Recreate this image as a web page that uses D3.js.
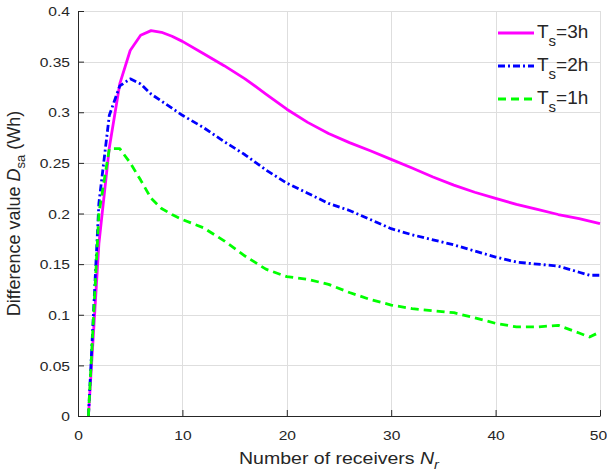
<!DOCTYPE html>
<html>
<head>
<meta charset="utf-8">
<script src="https://cdn.jsdelivr.net/npm/d3@7"></script>
<style>
  html, body { margin: 0; padding: 0; background: #fff; }
  svg { display: block; }
  text { font-family: "Liberation Sans", Arial, Helvetica, sans-serif; fill: #262626; }
</style>
</head>
<body>
<svg id="chart" width="607" height="476"></svg>
<script>
// Number of receivers N_r
const receivers = [1, 2, 3, 4, 5, 6, 7, 8, 9, 10, 12, 14, 16, 18, 20, 22, 24, 26, 28, 30,
                   32, 34, 36, 38, 40, 42, 44, 46, 48, 49, 50];

// Difference value D_sa (Wh) for each sensing period
const ts3h = [0, 0.170, 0.265, 0.328, 0.361, 0.376, 0.3806, 0.379, 0.375, 0.370,
              0.358, 0.346, 0.333, 0.318, 0.303, 0.290, 0.279, 0.270, 0.262, 0.2535,
              0.245, 0.236, 0.228, 0.221, 0.215, 0.209, 0.204, 0.199, 0.195, 0.1925, 0.190];
const ts2h = [0, 0.210, 0.297, 0.326, 0.333, 0.328, 0.318, 0.311, 0.304, 0.297,
              0.285, 0.271, 0.258, 0.243, 0.230, 0.220, 0.210, 0.203, 0.194, 0.185,
              0.179, 0.174, 0.169, 0.163, 0.157, 0.152, 0.150, 0.148, 0.142, 0.139, 0.139];
const ts1h = [0, 0.200, 0.264, 0.264, 0.250, 0.233, 0.215, 0.205, 0.199, 0.194,
              0.186, 0.173, 0.158, 0.145, 0.1376, 0.135, 0.130, 0.122, 0.115, 0.1096,
              0.106, 0.104, 0.102, 0.097, 0.0915, 0.088, 0.088, 0.0895, 0.082, 0.078, 0.083];

const seriesNames = ["3h", "2h", "1h"];
const xTicks = [0, 10, 20, 30, 40, 50];
const yTicks = [0, 0.05, 0.1, 0.15, 0.2, 0.25, 0.3, 0.35, 0.4];

const series = [
  { name: seriesNames[0], values: ts3h, color: "#ff00ff", dash: null },
  { name: seriesNames[1], values: ts2h, color: "#0000ff", dash: "7,3,2,3" },
  { name: seriesNames[2], values: ts1h, color: "#00ff00", dash: "8,5" }
];

const margin = { left: 78, right: 7, top: 11, bottom: 60 };
const W = 607, H = 476;
const svg = d3.select("#chart");

const x = d3.scaleLinear().domain([0, 50]).range([margin.left, W - margin.right]);
const y = d3.scaleLinear().domain([0, 0.4]).range([H - margin.bottom, margin.top]);

// grid
const grid = svg.append("g").attr("stroke", "#dedede").attr("stroke-width", 1);
grid.selectAll("line.gx").data(xTicks).join("line")
  .attr("x1", d => Math.round(x(d)) + 0.5).attr("x2", d => Math.round(x(d)) + 0.5)
  .attr("y1", y(0)).attr("y2", y(0.4));
grid.selectAll("line.gy").data(yTicks).join("line")
  .attr("y1", d => Math.round(y(d)) + 0.5).attr("y2", d => Math.round(y(d)) + 0.5)
  .attr("x1", x(0)).attr("x2", x(50));

// curves
const line = d3.line().x((d, i) => x(receivers[i])).y(d => y(d));
svg.append("g").selectAll("path").data(series).join("path")
  .attr("d", d => line(d.values))
  .attr("fill", "none")
  .attr("stroke", d => d.color)
  .attr("stroke-width", 2.8)
  .attr("stroke-linejoin", "round")
  .attr("stroke-dasharray", d => d.dash);

// axes
const stretch = 1.2;
const xAxis = svg.append("g").attr("transform", `translate(0,${y(0)})`)
  .call(d3.axisBottom(x).tickValues(xTicks).tickFormat(d3.format("d"))
        .tickSizeInner(-6).tickSizeOuter(0));
const yAxis = svg.append("g").attr("transform", `translate(${x(0)},0)`)
  .call(d3.axisLeft(y).tickValues(yTicks).tickFormat(d => d === 0 ? "0" : String(+d.toFixed(2)))
        .tickSizeInner(-6).tickSizeOuter(0));

[xAxis, yAxis].forEach(g => {
  g.select(".domain").attr("stroke", "#262626").attr("stroke-width", 1);
  g.selectAll(".tick line").attr("stroke", "#262626");
  g.selectAll(".tick text").attr("fill", "#262626").style("font-size", "13px")
    .style("font-family", "'Liberation Sans', Arial, sans-serif");
});
// the last x label is kept inside the right edge of the canvas
xAxis.selectAll(".tick text")
  .attr("x", 0).attr("y", 0).attr("dy", "0.36em")
  .attr("transform", d => `translate(${d === 50 ? -2 : 0},19) scale(${stretch},1)`);
yAxis.selectAll(".tick text")
  .attr("x", 0).attr("y", 0).attr("dy", "0.36em")
  .attr("transform", `translate(-8,0) scale(${stretch},1)`);

// x axis title
const xt = svg.append("text")
  .attr("transform", `translate(${(x(0) + x(50)) / 2},464) scale(1.22,1)`)
  .attr("text-anchor", "middle").style("font-size", "16px");
xt.append("tspan").text("Number of receivers ");
xt.append("tspan").style("font-style", "italic").text("N");
xt.append("tspan").style("font-style", "italic").style("font-size", "12px").attr("dy", 5).text("r");

// y axis title
const yt = svg.append("text")
  .attr("transform", `translate(19.5,${(y(0) + y(0.4)) / 2}) rotate(-90)`)
  .attr("text-anchor", "middle").style("font-size", "18px");
yt.append("tspan").text("Difference value ");
yt.append("tspan").style("font-style", "italic").text("D");
yt.append("tspan").style("font-size", "13px").attr("dy", 5).text("sa");
yt.append("tspan").attr("dy", -5).text(" (Wh)");

// legend
const legend = svg.append("g");
series.forEach((s, i) => {
  const ly = 33 + i * 33;
  legend.append("line")
    .attr("x1", 498).attr("x2", 534).attr("y1", ly).attr("y2", ly)
    .attr("stroke", s.color).attr("stroke-width", 2.8)
    .attr("stroke-dasharray", s.dash);
  const t = legend.append("text").attr("x", 537).attr("y", ly + 4.5).style("font-size", "19px");
  t.append("tspan").text("T");
  t.append("tspan").style("font-size", "15px").attr("dy", 8).text("s");
  t.append("tspan").attr("dy", -8).text("=" + s.name);
});
</script>
</body>
</html>
